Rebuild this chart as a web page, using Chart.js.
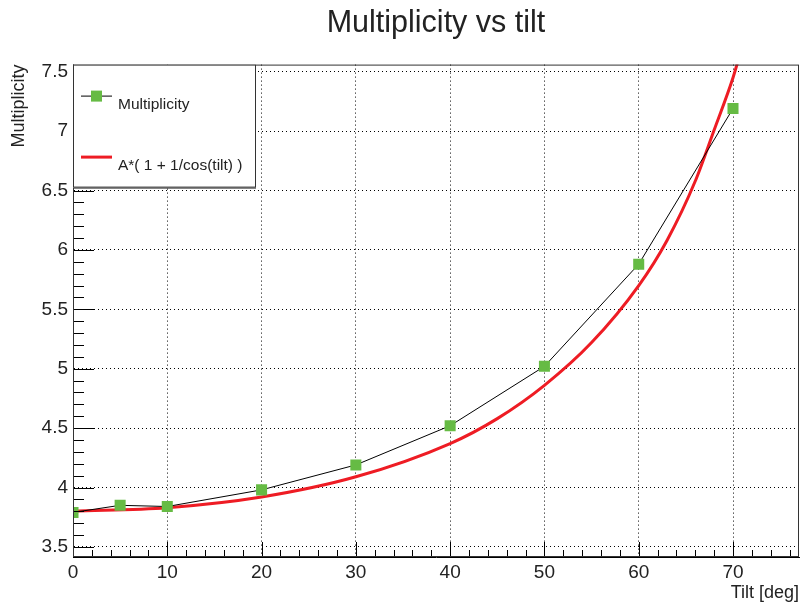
<!DOCTYPE html>
<html>
<head>
<meta charset="utf-8">
<script src="https://cdn.jsdelivr.net/npm/chart.js@4/dist/chart.umd.min.js"></script>
<style>
  html, body { margin: 0; padding: 0; background: #fff; }
  canvas { display: block; }
</style>
</head>
<body>
<canvas id="myChart" width="800" height="606"></canvas>
<script>
// measured points
const tiltDeg = [0, 5, 10, 20, 30, 40, 50, 60, 70];
const multiplicity = [3.79, 3.85, 3.84, 3.98, 4.19, 4.52, 5.02, 5.88, 7.19];

// fitted curve
const fitTilt = [0, 10, 20, 30, 40, 45, 50, 55, 60, 63, 66, 68, 70, 71];
const fitMult = [3.80, 3.83, 3.92, 4.09, 4.37, 4.58, 4.86, 5.22, 5.70, 6.08, 6.58, 7.01, 7.45, 7.72];

const xTicks = [0, 10, 20, 30, 40, 50, 60, 70];
const yTicks = [3.5, 4, 4.5, 5, 5.5, 6, 6.5, 7, 7.5];

const font = "'Liberation Sans', Arial, Helvetica, sans-serif";

// ROOT style inside ticks, frame and legend box
const rootFrame = {
  id: 'rootFrame',
  afterDatasetsDraw(chart) {
    const { ctx, chartArea: a, scales: { x, y } } = chart;
    ctx.save();
    ctx.strokeStyle = '#000';
    ctx.lineWidth = 1;
    ctx.beginPath();
    for (let v = 0; v <= x.max; v += 2) {
      const px = Math.round(x.getPixelForValue(v)) + 0.5;
      const len = v % 10 === 0 ? 15 : 7;
      ctx.moveTo(px, a.bottom);
      ctx.lineTo(px, a.bottom - len);
    }
    for (let i = Math.ceil(y.min * 10); i <= y.max * 10; i++) {
      const py = Math.round(y.getPixelForValue(i / 10)) + 0.5;
      const len = i % 5 === 0 ? 21 : 11;
      ctx.moveTo(a.left, py);
      ctx.lineTo(a.left + len, py);
    }
    ctx.stroke();
    ctx.strokeStyle = '#333';
    ctx.strokeRect(a.left + 0.5, a.top + 0.5, a.right - a.left - 1, a.bottom - a.top - 1);

    // legend
    const bx = a.left, by = a.top, bw = 183, bh = 123;
    ctx.fillStyle = '#fff';
    ctx.fillRect(bx, by, bw, bh);
    ctx.strokeStyle = '#333';
    ctx.strokeRect(bx + 0.5, by + 0.5, bw - 1, bh - 1);
    ctx.beginPath();
    ctx.moveTo(bx + 1, by + bh + 0.5);
    ctx.lineTo(bx + bw, by + bh + 0.5);
    ctx.stroke();

    const ds = chart.data.datasets;
    ctx.font = '15.5px ' + font;
    ctx.textBaseline = 'alphabetic';
    ctx.fillStyle = '#222';

    // entry 1: graph
    let ly = by + 31.5;
    ctx.strokeStyle = ds[0].borderColor;
    ctx.lineWidth = 1;
    ctx.beginPath();
    ctx.moveTo(bx + 8, ly);
    ctx.lineTo(bx + 39, ly);
    ctx.stroke();
    ctx.fillStyle = ds[0].pointBackgroundColor;
    ctx.fillRect(bx + 18, ly - 5.5, 11, 11);
    ctx.fillStyle = '#222';
    ctx.fillText(ds[0].label, bx + 45, by + 44);

    // entry 2: fit
    ly = by + 92.5;
    ctx.strokeStyle = ds[1].borderColor;
    ctx.lineWidth = 3;
    ctx.beginPath();
    ctx.moveTo(bx + 8, ly);
    ctx.lineTo(bx + 39, ly);
    ctx.stroke();
    ctx.fillText(ds[1].label, bx + 45, by + 105);
    ctx.restore();
  }
};

new Chart(document.getElementById('myChart'), {
  type: 'scatter',
  data: {
    datasets: [{
      label: 'Multiplicity',
      data: tiltDeg.map((t, i) => ({ x: t, y: multiplicity[i] })),
      showLine: true,
      borderColor: '#000',
      borderWidth: 1,
      pointStyle: 'rect',
      pointRadius: 7.8,
      pointBorderWidth: 0,
      pointBackgroundColor: '#66bb44',
      pointBorderColor: '#66bb44',
      order: 1
    }, {
      label: 'A*( 1 + 1/cos(tilt) )',
      data: fitTilt.map((t, i) => ({ x: t, y: fitMult[i] })),
      showLine: true,
      borderColor: '#ee1c24',
      borderWidth: 3,
      pointRadius: 0,
      cubicInterpolationMode: 'monotone',
      order: 2
    }]
  },
  options: {
    responsive: false,
    animation: false,
    devicePixelRatio: 1,
    layout: { autoPadding: false, padding: { left: 0, right: 1, top: 0, bottom: 0 } },
    plugins: {
      legend: { display: false },
      tooltip: { enabled: false },
      title: {
        display: true,
        fullSize: false,
        text: 'Multiplicity vs tilt',
        color: '#222',
        font: { family: font, size: 30.5, weight: 'normal' },
        padding: { top: 5, bottom: 23 }
      }
    },
    scales: {
      x: {
        type: 'linear',
        min: 0,
        max: 77,
        afterBuildTicks: s => { s.ticks = xTicks.map(v => ({ value: v })); },
        afterFit: s => { s.height = 49; s.paddingLeft = 0; s.paddingRight = 0; },
        ticks: { color: '#222', font: { family: font, size: 19 }, padding: 4, maxRotation: 0, callback: v => String(v) },
        grid: { color: '#000', lineWidth: 1, drawTicks: false },
        border: { display: true, color: '#000', width: 1, dash: [1, 3] },
        title: {
          display: true,
          text: 'Tilt [deg]',
          align: 'end',
          color: '#222',
          font: { family: font, size: 18 },
          padding: { top: 0, bottom: 2 }
        }
      },
      y: {
        type: 'linear',
        min: 3.415,
        max: 7.56,
        afterBuildTicks: s => { s.ticks = yTicks.map(v => ({ value: v })); },
        afterFit: s => { s.width = 73; s.paddingTop = 0; s.paddingBottom = 0; },
        ticks: { color: '#222', font: { family: font, size: 19 }, padding: 5, callback: v => String(v) },
        grid: { color: '#000', lineWidth: 1, drawTicks: false },
        border: { display: true, color: '#000', width: 1, dash: [1, 3] },
        title: {
          display: true,
          text: 'Multiplicity',
          align: 'end',
          color: '#222',
          font: { family: font, size: 18 },
          padding: { top: 8, bottom: 0 }
        }
      }
    }
  },
  plugins: [rootFrame]
});
</script>
</body>
</html>
